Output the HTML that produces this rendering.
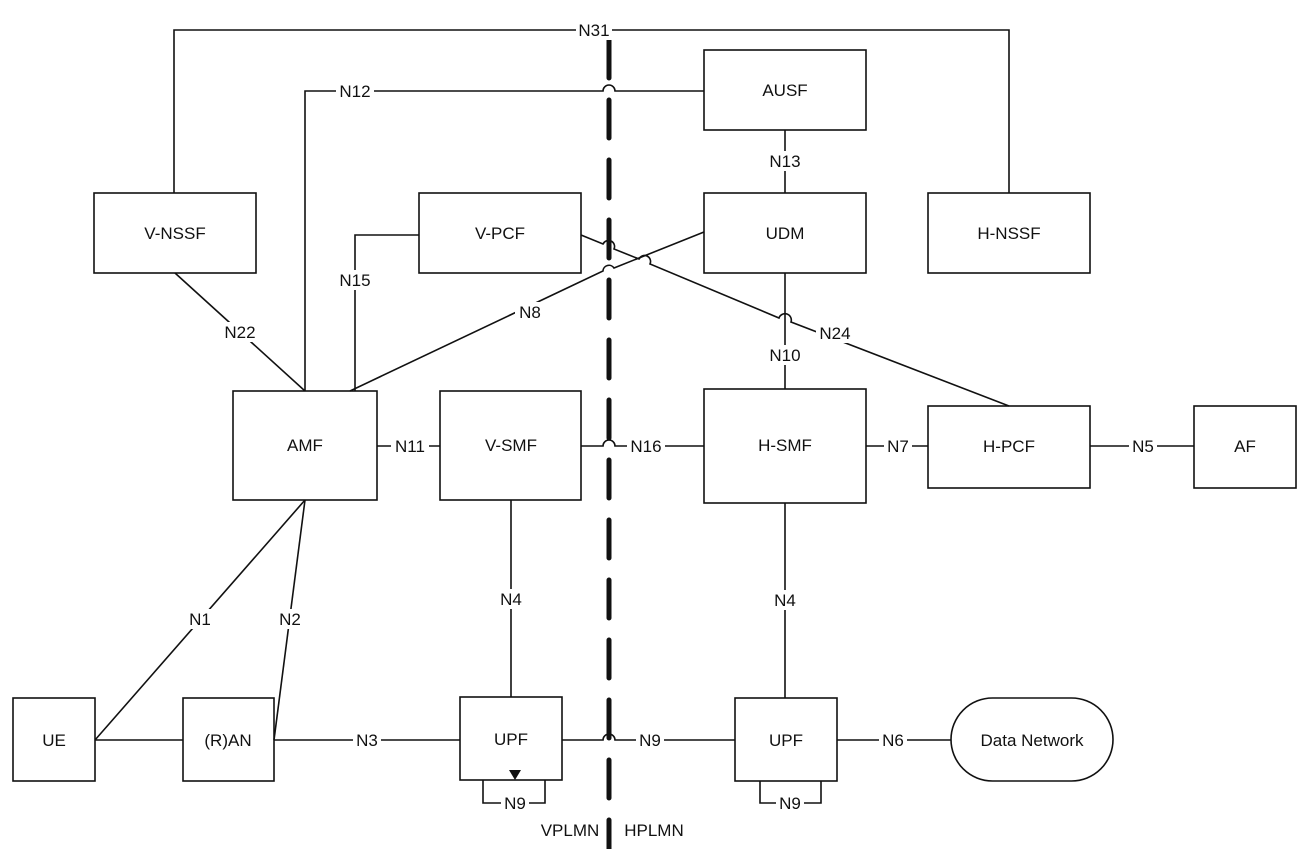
<!DOCTYPE html>
<html><head><meta charset="utf-8"><style>
html,body{margin:0;padding:0;background:#fff}
svg{display:block}
text{font-family:"Liberation Sans",Arial,sans-serif;font-size:17px;fill:#111}
</style></head><body>
<svg width="1309" height="849" viewBox="0 0 1309 849" xmlns="http://www.w3.org/2000/svg">
<g stroke="#111" stroke-width="1.6" fill="none">
<rect x="704" y="50" width="162" height="80"/>
<rect x="704" y="193" width="162" height="80"/>
<rect x="94" y="193" width="162" height="80"/>
<rect x="419" y="193" width="162" height="80"/>
<rect x="928" y="193" width="162" height="80"/>
<rect x="233" y="391" width="144" height="109"/>
<rect x="440" y="391" width="141" height="109"/>
<rect x="704" y="389" width="162" height="114"/>
<rect x="928" y="406" width="162" height="82"/>
<rect x="1194" y="406" width="102" height="82"/>
<rect x="13" y="698" width="82" height="83"/>
<rect x="183" y="698" width="91" height="83"/>
<rect x="460" y="697" width="102" height="83"/>
<rect x="735" y="698" width="102" height="83"/>
<rect x="951" y="698" width="162" height="83" rx="41.5"/>
<path d="M174 193 V30 H1009 V193"/>
<path d="M305 391 V91 H603 A6 6 0 0 1 615 91 H704"/>
<path d="M785 130 V193"/>
<path d="M175 273 L305 391"/>
<path d="M419 235 H355 V391"/>
<path d="M350 391 L603 271 A6 6 0 0 1 614 268 L704 232"/>
<path d="M581 235 L603 244 A6 6 0 0 1 614 249 L639 259 A6 6 0 0 1 650 264 L779 318 A6 6 0 0 1 791 322 L1009 406"/>
<path d="M785 273 V389"/>
<path d="M377 446 H440"/>
<path d="M581 446 H603 A6 6 0 0 1 615 446 H704"/>
<path d="M866 446 H928"/>
<path d="M1090 446 H1194"/>
<path d="M511 500 V697"/>
<path d="M785 503 V698"/>
<path d="M95 740 L305 500"/>
<path d="M274 740 L305 500"/>
<path d="M95 740 H183"/>
<path d="M274 740 H460"/>
<path d="M562 740 H603 A6 6 0 0 1 615 740 H735"/>
<path d="M837 740 H951"/>
<path d="M483 780 V803 H545 V780"/>
<path d="M760 781 V803 H821 V781"/>
</g>
<path d="M509 770 L521 770 L515 780 Z" fill="#111"/>
<line x1="609" y1="40" x2="609" y2="849" stroke="#111" stroke-width="5" stroke-dasharray="38 22" stroke-linecap="round"/>
<g text-anchor="middle">
<g fill="#fff" stroke="none">
<rect x="576" y="20" width="36" height="20"/>
<rect x="336" y="81" width="38" height="20"/>
<rect x="768" y="151" width="34" height="20"/>
<rect x="221" y="322" width="38" height="20"/>
<rect x="337" y="270" width="36" height="20"/>
<rect x="515" y="302" width="30" height="20"/>
<rect x="816" y="323" width="38" height="20"/>
<rect x="767" y="345" width="36" height="20"/>
<rect x="391" y="436" width="38" height="20"/>
<rect x="627" y="436" width="38" height="20"/>
<rect x="884" y="436" width="28" height="20"/>
<rect x="1129" y="436" width="28" height="20"/>
<rect x="497" y="589" width="28" height="20"/>
<rect x="771" y="590" width="28" height="20"/>
<rect x="186" y="609" width="28" height="20"/>
<rect x="276" y="609" width="28" height="20"/>
<rect x="353" y="730" width="28" height="20"/>
<rect x="636" y="730" width="28" height="20"/>
<rect x="879" y="730" width="28" height="20"/>
<rect x="501" y="793" width="28" height="20"/>
<rect x="776" y="793" width="28" height="20"/>
</g>
<text x="785" y="96">AUSF</text>
<text x="785" y="239">UDM</text>
<text x="175" y="239">V-NSSF</text>
<text x="500" y="239">V-PCF</text>
<text x="1009" y="239">H-NSSF</text>
<text x="305" y="451">AMF</text>
<text x="511" y="451">V-SMF</text>
<text x="785" y="451">H-SMF</text>
<text x="1009" y="452">H-PCF</text>
<text x="1245" y="452">AF</text>
<text x="54" y="746">UE</text>
<text x="228" y="746">(R)AN</text>
<text x="511" y="745">UPF</text>
<text x="786" y="746">UPF</text>
<text x="1032" y="746">Data Network</text>
<text x="594" y="36">N31</text>
<text x="355" y="97">N12</text>
<text x="785" y="167">N13</text>
<text x="240" y="338">N22</text>
<text x="355" y="286">N15</text>
<text x="530" y="318">N8</text>
<text x="835" y="339">N24</text>
<text x="785" y="361">N10</text>
<text x="410" y="452">N11</text>
<text x="646" y="452">N16</text>
<text x="898" y="452">N7</text>
<text x="1143" y="452">N5</text>
<text x="511" y="605">N4</text>
<text x="785" y="606">N4</text>
<text x="200" y="625">N1</text>
<text x="290" y="625">N2</text>
<text x="367" y="746">N3</text>
<text x="650" y="746">N9</text>
<text x="893" y="746">N6</text>
<text x="515" y="809">N9</text>
<text x="790" y="809">N9</text>
<text x="570" y="836">VPLMN</text>
<text x="654" y="836">HPLMN</text>
</g>
</svg>
</body></html>
